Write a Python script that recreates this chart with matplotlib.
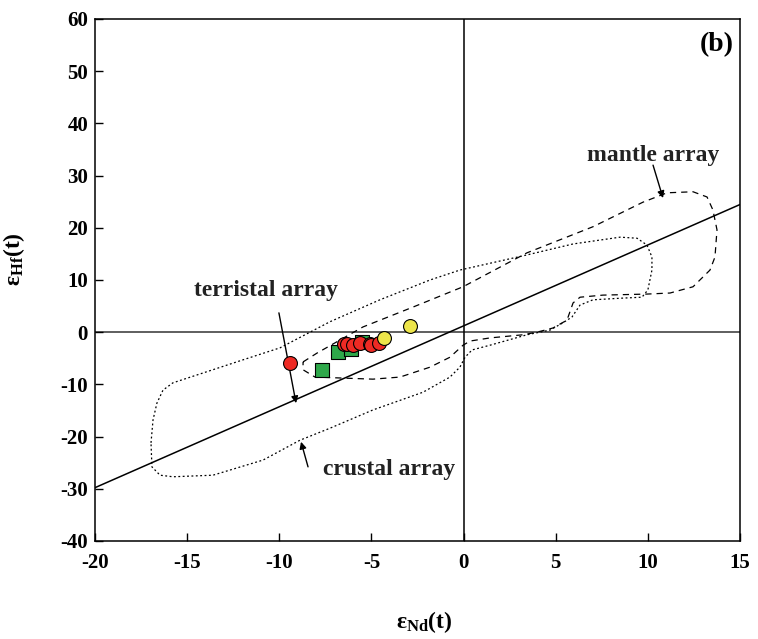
import numpy as np
import matplotlib
matplotlib.use('Agg')
import matplotlib.pyplot as plt

plt.rcParams['font.family'] = ['Liberation Serif', 'DejaVu Serif']
plt.rcParams['font.weight'] = 'bold'
plt.rcParams['axes.unicode_minus'] = False
plt.rcParams['mathtext.fontset'] = 'custom'
plt.rcParams['mathtext.rm'] = 'Liberation Serif:bold'
plt.rcParams['mathtext.it'] = 'Liberation Serif:bold'
plt.rcParams['mathtext.bf'] = 'Liberation Serif:bold'

# samples
red_nd = [-9.4, -6.5, -6.3, -6.0, -5.6, -5.1, -5.0, -4.6]
red_hf = [-6.0, -2.3, -2.3, -2.4, -2.1, -2.3, -2.5, -2.1]
green_nd = [-7.7, -6.8, -6.1, -5.5]
green_hf = [-7.2, -3.8, -3.2, -1.9]
yellow_nd = [-4.3, -2.9]
yellow_hf = [-1.1, 1.2]

# terrestrial array line: eHf = 1.55 eNd + 1.21
line_nd = [-20, 15]
line_hf = [1.55 * -20 + 1.21, 1.55 * 15 + 1.21]

# crustal array outline (dotted)
crust_nd = [-16.96, -16.85, -16.64, -16.31, -15.77, -14.47, -11.97, -9.96, -7.25, -4.54,
            -1.82, -0.2, 3.44, 5.94, 8.49, 9.41, 9.95, 10.22, 10.22, 10.0, 9.68, 8.49,
            7.02, 6.32, 5.88, 5.39, 4.69, 3.44, 1.43, 0.46, 0.08, -0.2, -0.74, -2.2,
            -4.92, -7.25, -8.88, -10.88, -13.6, -15.77, -16.47, -16.91, -16.96]
crust_hf = [-21.2, -16.8, -13.6, -11.1, -9.7, -8.2, -5.3, -3.0, 2.0, 6.2,
            10.0, 11.9, 14.8, 16.9, 18.2, 18.0, 16.7, 14.4, 11.9, 8.1, 6.7, 6.5,
            6.2, 5.2, 2.9, 1.8, 0.4, -0.5, -2.5, -3.4, -4.8, -6.7, -8.6, -11.5,
            -14.9, -18.4, -20.7, -24.5, -27.4, -27.7, -27.4, -25.8, -21.2]

# mantle array outline (dashed)
mantle_nd = [-8.71, -7.95, -5.46, -2.75, -0.03, 3.44, 7.02, 9.73, 11.04, 12.45, 13.21,
             13.53, 13.75, 13.64, 13.37, 12.45, 11.2, 9.95, 7.56, 6.32, 5.94, 5.61,
             4.85, 3.98, 3.22, 1.43, 0.35, -0.03, -0.74, -1.82, -3.45, -4.92, -8.06,
             -8.71, -8.71]
mantle_hf = [-5.7, -4.0, 1.0, 4.8, 8.7, 15.2, 20.2, 24.9, 26.7, 26.9, 25.9,
             23.4, 19.6, 14.4, 11.9, 8.7, 7.5, 7.3, 7.1, 6.7, 5.6, 2.3,
             0.8, 0.0, -0.5, -1.1, -1.7, -2.5, -4.8, -6.7, -8.6, -9.0, -8.6,
             -7.2, -5.7]

fig = plt.figure(figsize=(7.58, 6.39), dpi=100)
ax = fig.add_axes([0.1253, 0.1534, 0.851, 0.8169])

ax.axhline(0, color='#333333', lw=1.1, zorder=1)
ax.axvline(0, color='black', lw=1.1, zorder=1)
ax.plot(line_nd, line_hf, color='black', lw=1.1, zorder=2)
ax.plot(crust_nd, crust_hf, color='black', lw=0.9, ls=(0, (1.5, 2.0)), zorder=2)
ax.plot(mantle_nd, mantle_hf, color='black', lw=0.9, ls=(0, (5, 4)), zorder=2)

ax.scatter(green_nd, green_hf, marker='s', s=115, c='#2EA84A', edgecolors='black',
           linewidths=0.8, zorder=3)
ax.scatter(red_nd, red_hf, marker='o', s=100, c='#EE2A24', edgecolors='black',
           linewidths=0.8, zorder=4)
ax.scatter(yellow_nd, yellow_hf, marker='o', s=100, c='#EDE54A', edgecolors='black',
           linewidths=0.8, zorder=5)

arrow = dict(arrowstyle='-|>', color='black', lw=1.0, mutation_scale=10, shrinkA=0, shrinkB=0)
ax.annotate('', xy=(-9.09, -13.6), xytext=(-10.02, 3.7), arrowprops=arrow)
ax.annotate('', xy=(-8.82, -21.0), xytext=(-8.44, -25.8), arrowprops=arrow)
ax.annotate('', xy=(10.82, 25.7), xytext=(10.28, 32.0), arrowprops=arrow)

tkw = dict(fontsize=17, fontweight='bold', color='#222222')
ax.text(-10.72, 7.9, 'terristal array', ha='center', va='center', **tkw)
ax.text(-4.05, -26.4, 'crustal array', ha='center', va='center', **tkw)
ax.text(10.28, 33.9, 'mantle array', ha='center', va='center', **tkw)
ax.text(0.99, 0.975, '(b)', transform=ax.transAxes, ha='right', va='top',
        fontsize=20, fontweight='bold')

ax.set_xlim(-20, 15)
ax.set_ylim(-40, 60)
ax.set_xticks(range(-20, 16, 5))
ax.set_yticks(range(-40, 61, 10))
ax.tick_params(direction='in', length=5.5, width=1, labelsize=15,
               top=False, right=False)
ax.tick_params(axis='x', pad=9)
ax.tick_params(axis='y', pad=5)
for lab in ax.get_xticklabels() + ax.get_yticklabels():
    lab.set_fontweight('bold')
for sp in ax.spines.values():
    sp.set_linewidth(1.1)

ax.set_xlabel(r'ε$_{\mathregular{Nd}}$(t)', fontsize=17, fontweight='bold')
ax.set_ylabel(r'ε$_{\mathregular{Hf}}$(t)', fontsize=17, fontweight='bold')
ax.xaxis.set_label_coords(0.51, -0.13)
ax.yaxis.set_label_coords(-0.105, 0.54)

fig.savefig('out.png', dpi=100)
